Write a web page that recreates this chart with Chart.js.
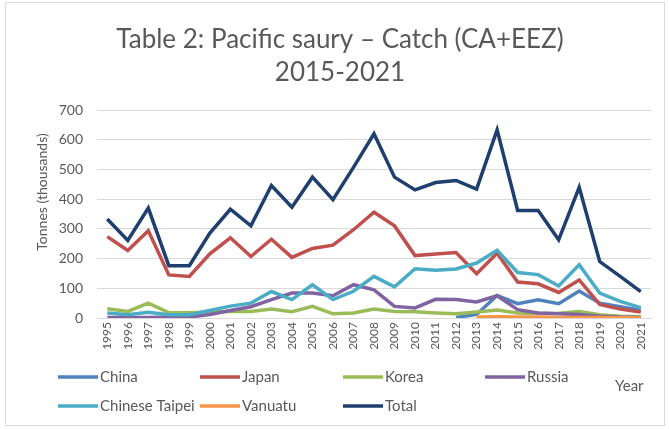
<!DOCTYPE html>
<html>
<head>
<meta charset="utf-8">
<script src="https://cdn.jsdelivr.net/npm/chart.js@4"></script>
<style>
  html, body { margin: 0; padding: 0; background: #fff; }
  #wrap { width: 669px; height: 429px; position: relative; }
</style>
</head>
<body>
<div id="wrap"><canvas id="chart" width="669" height="429"></canvas></div>
<script>
// data (thousand tonnes)
const years = ['1995','1996','1997','1998','1999','2000','2001','2002','2003','2004','2005','2006','2007','2008','2009','2010','2011','2012','2013','2014','2015','2016','2017','2018','2019','2020','2021'];
const china = [null,null,null,null,null,null,null,null,null,null,null,null,null,null,null,null,null,2,12,76,48,61,48,91,50,38,26];
const japan = [274,227,294,145,140,216,270,207,265,204,234,245,297,356,310,210,215,220,149,218,121,115,86,128,46,30,20];
const korea = [31,22,50,18,18,20,22,22,30,21,39,14,17,30,22,21,17,14,20,27,17,15,16,22,11,6,4];
const russia = [2,2,2,3,3,12,25,38,62,84,84,75,112,95,39,34,63,62,54,75,28,17,14,12,6,3,2];
const taipei = [17,11,19,11,11,25,40,50,89,62,112,62,90,140,105,166,161,165,185,228,153,146,108,179,84,56,35];
const vanuatu = [null,null,null,null,null,null,null,null,null,null,null,null,null,null,null,null,null,null,3,4,3,3,2,2,2,1,1];
const total = [333,261,370,176,176,286,366,310,446,373,474,398,507,620,474,431,456,463,434,633,362,362,263,440,190,140,89];
const yTicks = [0,100,200,300,400,500,600,700];

const names = ['China','Japan','Korea','Russia','Chinese Taipei','Vanuatu','Total'];
const values = [china, japan, korea, russia, taipei, vanuatu, total];
const colors = ['#4F81BD','#C0504D','#9BBB59','#8064A2','#4BACC6','#F79646','#1F3F6E'];

const FONT = 'Lato, "Open Sans", sans-serif';
const GREY = '#595959';

// title, axis titles, legend and frame
const extras = {
  id: 'extras',
  beforeDraw(chart) {
    const c = chart.ctx;
    c.save();
    c.fillStyle = '#fff';
    c.fillRect(0, 0, chart.width, chart.height);
    c.strokeStyle = '#d9d9d9';
    c.lineWidth = 1;
    c.strokeRect(5.5, 2.5, 659, 423);
    c.restore();
  },
  afterDraw(chart) {
    const c = chart.ctx;
    c.save();
    c.fillStyle = GREY;
    c.textAlign = 'center';
    c.textBaseline = 'middle';
    c.font = '26px ' + FONT;
    c.fillText('Table 2: Pacific saury \u2013 Catch (CA+EEZ)', 340, 40);
    c.fillText('2015-2021', 340, 73);

    c.font = '14px ' + FONT;
    c.save();
    c.translate(42, 192);
    c.rotate(-Math.PI / 2);
    c.fillText('Tonnes (thousands)', 0, 0);
    c.restore();

    c.textAlign = 'left';
    c.font = '15px ' + FONT;
    c.fillText('Year', 615, 386);

    // legend in fixed columns like the original
    const cols = [58, 200, 343, 485];
    const rows = [377, 406];
    names.forEach((n, i) => {
      const x = cols[i % 4];
      const y = rows[Math.floor(i / 4)];
      c.strokeStyle = colors[i];
      c.lineWidth = 3.5;
      c.beginPath();
      c.moveTo(x, y);
      c.lineTo(x + 40, y);
      c.stroke();
      c.fillStyle = GREY;
      c.fillText(n, x + 42, y);
    });
    c.restore();
  }
};

new Chart(document.getElementById('chart'), {
  type: 'line',
  data: {
    labels: years,
    datasets: values.map((v, i) => ({
      label: names[i],
      data: v,
      borderColor: colors[i],
      backgroundColor: colors[i],
      borderWidth: 3.5,
      pointRadius: 0,
      tension: 0,
      order: 7 - i
    }))
  },
  options: {
    responsive: false,
    animation: false,
    layout: { padding: { top: 110, left: 0, right: 18, bottom: 0 } },
    plugins: {
      legend: { display: false },
      title: { display: false },
      tooltip: { enabled: false }
    },
    scales: {
      x: {
        offset: true,
        grid: { display: false, drawTicks: false },
        border: { display: true, color: '#d9d9d9' },
        ticks: {
          color: GREY,
          font: { family: FONT, size: 12 },
          minRotation: 90,
          maxRotation: 90,
          autoSkip: false,
          padding: 4
        },
        afterFit(s) { s.height = 111; }
      },
      y: {
        min: 0,
        max: 700,
        afterBuildTicks(s) { s.ticks = yTicks.map(v => ({ value: v })); },
        grid: { color: '#d9d9d9', drawTicks: false },
        border: { display: false },
        ticks: {
          color: GREY,
          font: { family: FONT, size: 14 },
          padding: 14
        },
        afterFit(s) { s.width = 97; }
      }
    }
  },
  plugins: [extras]
});
</script>
</body>
</html>
